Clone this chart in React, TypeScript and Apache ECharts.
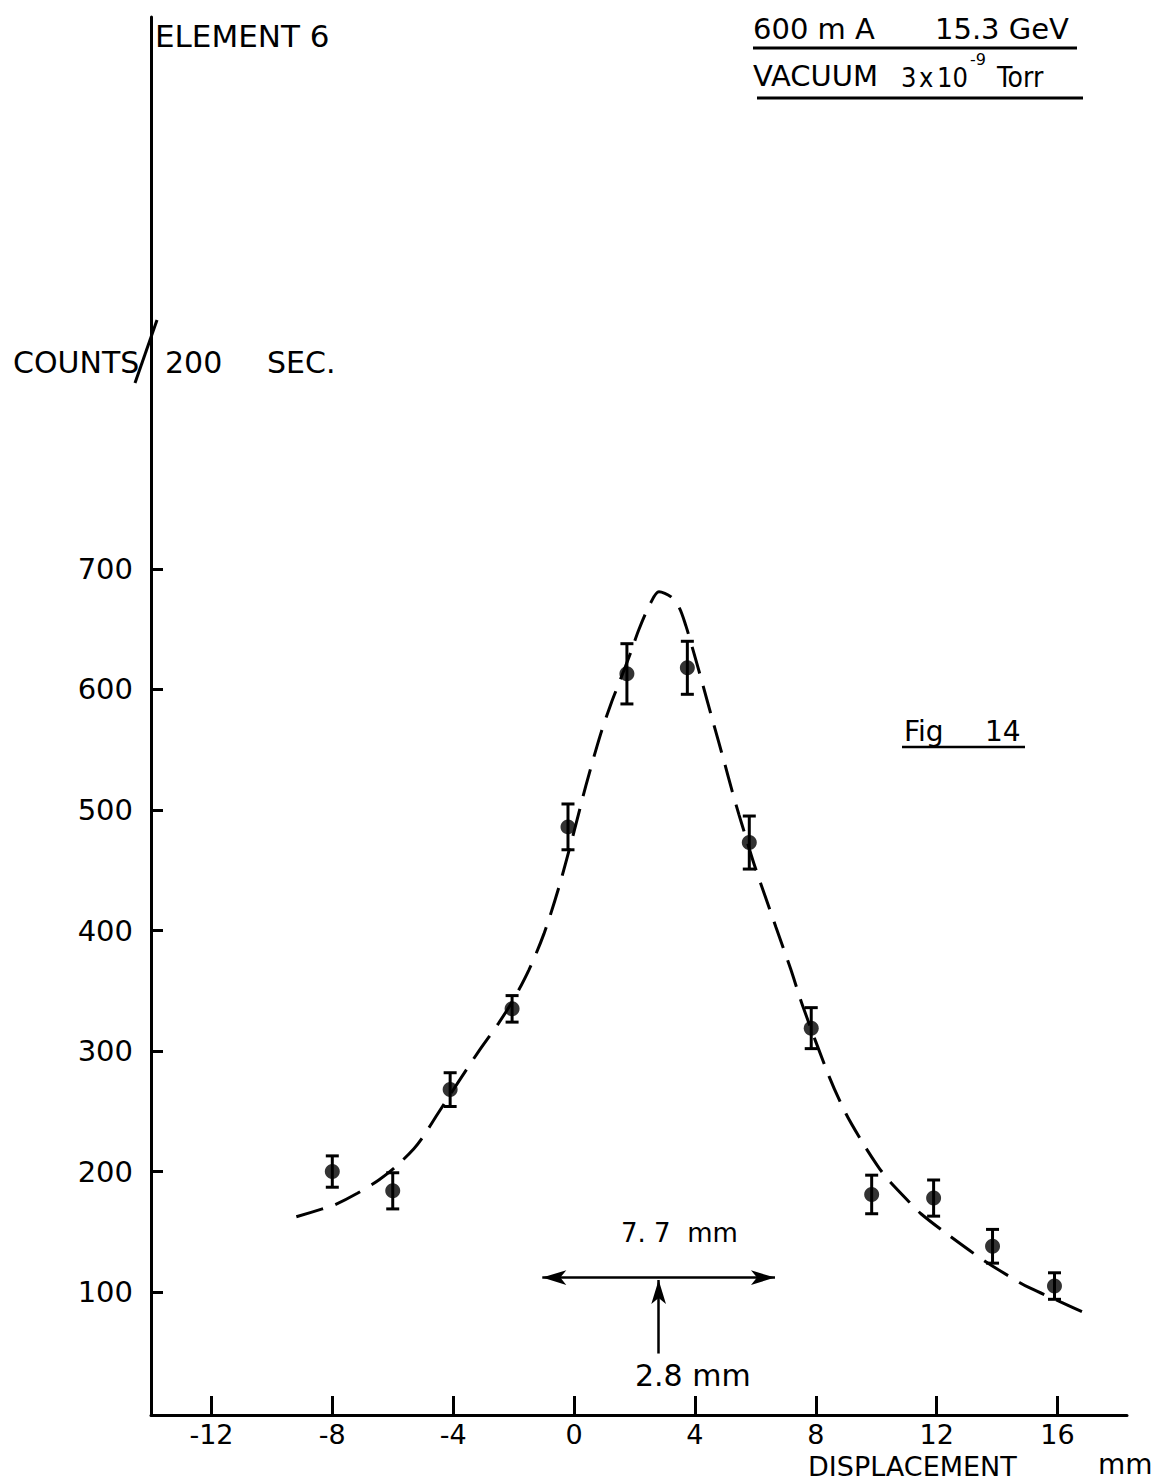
import React, { useEffect, useRef } from "react";
import * as echarts from "echarts";

// axis ticks
const xTicks = [-12, -8, -4, 0, 4, 8, 12, 16];
const yTicks = [100, 200, 300, 400, 500, 600, 700];

// measured points (displacement mm, counts / 200 s, error)
const displacement = [-8, -6, -4.1, -2.05, -0.2, 1.75, 3.75, 5.8, 7.85, 9.85, 11.9, 13.85, 15.9];
const counts = [200, 184, 268, 335, 486, 613, 618, 473, 319, 181, 178, 138, 105];
const countErrors = [13, 15, 14, 11, 19, 25, 22, 22, 17, 16, 15, 14, 11];

// dashed fitted curve
const fitX = [-9.19, -8.33, -7.95, -7.17, -6.46, -5.9, -5.3, -5.02, -4.51, -3.81, -3.15, -2.5, -2, -1.5, -1, -0.5, 0, 0.39, 0.88, 1.25, 1.5, 1.88, 2.15, 2.54, 2.81, 3.2, 3.48, 3.7, 3.97, 4.25, 4.58, 4.97, 5.24, 5.46, 5.63, 5.96, 6.68, 7.17, 7.56, 8.44, 9.0, 9.6, 10.04, 10.37, 11.2, 11.48, 12.3, 13.52, 14.74, 15.12, 16.17, 16.96];
const fitY = [162.5, 169, 172, 182, 193, 204, 219, 228, 248, 275, 300, 323, 343, 367, 397, 436, 482, 520, 563, 590, 606, 631, 650, 672, 681, 677, 668, 653, 630, 605, 575, 540, 515, 496, 482, 455, 403, 368, 338, 279, 248, 222, 205, 194, 172, 165, 149, 127, 108, 103, 91, 82];

// annotation values
const peakCentre = 2.8;
const fwhm = 7.7;
const arrowLevel = 112;
const pointerBottom = 49;
const pointerTop = 110;

export default function App() {
  const ref = useRef<HTMLDivElement>(null);
  useEffect(() => {
    const chart = echarts.init(ref.current!, null, { renderer: "svg" });
    const font = "DejaVu Sans";
    const condensed = `"DejaVu Sans Condensed", "Liberation Sans Narrow", "DejaVu Sans"`;
    const black = "#000";
    const txt = (text: string, x: number, y: number, size: number, extra: any = {}, family?: string) => ({
      type: "text",
      x,
      y,
      style: {
        text,
        fill: black,
        font: `${size}px ${family || `"${font}"`}`,
        textVerticalAlign: "middle",
        lineHeight: Math.round(size * 0.85),
        ...extra,
      },
    });
    const ln = (x1: number, y1: number, x2: number, y2: number, w = 3) => ({
      type: "line",
      shape: { x1, y1, x2, y2 },
      style: { stroke: black, lineWidth: w },
    });

    const option: any = {
      animation: false,
      backgroundColor: "#fff",
      grid: { left: 151, right: 34, top: 17, bottom: 67 },
      xAxis: {
        type: "value",
        min: -14,
        max: 18.3,
        axisLine: { show: true, onZero: false, lineStyle: { color: black, width: 3 } },
        axisTick: { show: true, inside: true, length: 19, customValues: xTicks, lineStyle: { color: black, width: 3 } },
        axisLabel: {
          customValues: xTicks,
          margin: 7,
          color: black,
          fontSize: 27,
          lineHeight: 24,
          fontFamily: font,
          formatter: (v: number) => String(v),
        },
        splitLine: { show: false },
      },
      yAxis: {
        type: "value",
        min: -2,
        max: 1158,
        axisLine: { show: true, onZero: false, lineStyle: { color: black, width: 3 } },
        axisTick: { show: true, inside: true, length: 12, customValues: yTicks, lineStyle: { color: black, width: 3 } },
        axisLabel: { customValues: yTicks, margin: 18, color: black, fontSize: 29, fontFamily: font },
        splitLine: { show: false },
      },
      series: [
        {
          type: "line",
          data: fitX.map((x, i) => [x, fitY[i]]),
          showSymbol: false,
          smooth: 0.3,
          lineStyle: { color: black, width: 3, type: [28, 13] },
          silent: true,
          z: 2,
          markLine: {
            silent: true,
            symbol: ["arrow", "arrow"],
            symbolSize: [11, 24],
            label: { show: false },
            lineStyle: { color: black, width: 2.5, type: "solid" },
            data: [
              [
                { coord: [peakCentre - fwhm / 2, arrowLevel], symbol: "arrow" },
                { coord: [peakCentre + fwhm / 2, arrowLevel], symbol: "arrow" },
              ],
              [
                { coord: [peakCentre, pointerBottom], symbol: "none" },
                { coord: [peakCentre, pointerTop], symbol: "arrow" },
              ],
            ],
          },
        },
        {
          type: "custom",
          data: displacement.map((x, i) => [x, counts[i], countErrors[i]]),
          z: 3,
          renderItem: (params: any, api: any) => {
            const x = api.value(0);
            const y = api.value(1);
            const e = api.value(2);
            const top = api.coord([x, y + e]);
            const bot = api.coord([x, y - e]);
            const hw = 6.5;
            const st = { stroke: black, lineWidth: 3 };
            return {
              type: "group",
              children: [
                { type: "line", shape: { x1: top[0], y1: top[1], x2: bot[0], y2: bot[1] }, style: st },
                { type: "line", shape: { x1: top[0] - hw, y1: top[1], x2: top[0] + hw, y2: top[1] }, style: st },
                { type: "line", shape: { x1: bot[0] - hw, y1: bot[1], x2: bot[0] + hw, y2: bot[1] }, style: st },
              ],
            };
          },
        },
        {
          type: "scatter",
          data: displacement.map((x, i) => [x, counts[i]]),
          symbol: "circle",
          symbolSize: 15,
          itemStyle: { color: black },
          z: 4,
        },
      ],
      graphic: [
        txt("ELEMENT 6", 155, 36, 31),
        txt("600 m A", 753, 29, 29),
        txt("15.3 GeV", 935, 29, 29),
        ln(753, 48, 1077, 48),
        txt("VACUUM", 753, 76, 29),
        txt("3", 901, 77, 27, {}, condensed),
        txt("x", 919, 77, 27, {}, condensed),
        txt("10", 937, 77, 27, {}, condensed),
        txt("-9", 970, 59, 16),
        txt("Torr", 997, 77, 28, {}, condensed),
        ln(757, 98, 1083, 98),
        txt("COUNTS", 13, 362, 30),
        ln(135, 383, 157, 320),
        txt("200", 165, 362, 30),
        txt("SEC.", 267, 362, 30),
        txt("Fig", 904, 731, 28),
        txt("14", 985, 731, 28),
        ln(902, 747, 1025, 747, 2.5),
        txt("7. 7  mm", 621, 1233, 26),
        txt("2.8 mm", 635, 1375, 30),
        txt("DISPLACEMENT", 808, 1466, 27),
        txt("mm", 1098, 1464, 28),
      ],
    };
    chart.setOption(option);
    return () => chart.dispose();
  }, []);
  return (
    <div
      ref={ref}
      style={{ position: "absolute", left: 0, top: 0, width: 1161, height: 1482, background: "#fff" }}
    />
  );
}
